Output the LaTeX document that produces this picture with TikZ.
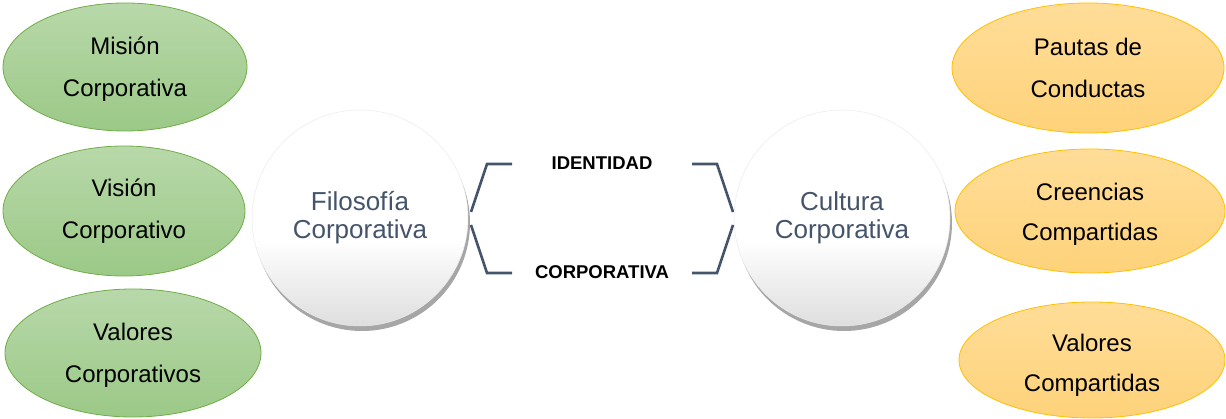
\documentclass[tikz,border=0pt]{standalone}
\usepackage{fontspec}
\setmainfont{Liberation Sans}
\usetikzlibrary{shapes.geometric,shadows}
\definecolor{gtop}{RGB}{184,216,169}
\definecolor{gbot}{RGB}{155,201,135}
\definecolor{gline}{RGB}{112,173,71}
\definecolor{otop}{RGB}{255,221,152}
\definecolor{obot}{RGB}{254,210,122}
\definecolor{oline}{RGB}{255,192,0}
\definecolor{slate}{RGB}{68,84,106}
\pgfdeclareverticalshading{circsh}{100bp}{color(0bp)=(black!13); color(25bp)=(black!13); color(45bp)=(white); color(75bp)=(white); color(100bp)=(white)}
\tikzset{
  greenell/.style={ellipse, draw=gline, line width=0.8pt, top color=gtop, bottom color=gbot, inner sep=0pt},
  orangeell/.style={ellipse, draw=oline, line width=0.8pt, top color=otop, bottom color=obot, inner sep=0pt},
  elltext/.style={align=center, inner sep=0pt, font=\fontsize{24}{42}\selectfont},
  bigcirc/.style={circle, minimum size=216pt, inner sep=0pt, shading=circsh, draw=black!8, line width=0.5pt,
     drop shadow={shadow xshift=2pt, shadow yshift=-5pt, fill=black, opacity=0.35},
     text=slate, align=center, font=\fontsize{26}{28}\selectfont},
  brk/.style={draw=slate, line width=2.6pt},
  midlabel/.style={font=\fontsize{18.5}{20}\selectfont\bfseries, inner sep=0pt}
}
\begin{document}
\begin{tikzpicture}[x=1pt,y=-1pt]
\useasboundingbox (0,0) rectangle (1226,419);
% left ellipses
\node[greenell, minimum width=244pt, minimum height=128pt] (mision) at (125,67) {};
\node[greenell, minimum width=242pt, minimum height=130pt] (vision) at (124,211) {};
\node[greenell, minimum width=256pt, minimum height=128pt] (valc) at (133,353) {};
\node[elltext] (misiont) at ([yshift=-2.5pt]mision.center) {Misión\\Corporativa};
\node[elltext] (visiont) at (vision.center) {Visión\\Corporativo};
\node[elltext] (valct) at ([yshift=-2pt]valc.center) {Valores\\Corporativos};
% right ellipses
\node[orangeell, minimum width=272pt, minimum height=130pt] (pautas) at (1088,68) {};
\node[orangeell, minimum width=270pt, minimum height=124pt] (creen) at (1090,211) {};
\node[orangeell, minimum width=266pt, minimum height=116pt] (valcomp) at (1092,360) {};
\node[elltext] (pautast) at (pautas.center) {Pautas de\\Conductas};
\node[elltext, font=\fontsize{24}{39.5}\selectfont] (creent) at ([yshift=-3.5pt]creen.center) {Creencias\\Compartidas};
\node[elltext, font=\fontsize{24}{40}\selectfont] (valcompt) at ([yshift=-5pt]valcomp.center) {Valores\\Compartidas};
% circles
\node[bigcirc] (filo) at (360,218) {Filosofía\\Corporativa};
\node[bigcirc] (cult) at (842,218) {Cultura\\Corporativa};
% labels
\node[midlabel] (ident) at (602,163) {IDENTIDAD};
\node[midlabel] (corp) at (602,272) {CORPORATIVA};
% brackets
\coordinate (l1) at (512,164); \coordinate (l2) at (487,164); \coordinate (l3) at (471,212);
\coordinate (l4) at (471,225); \coordinate (l5) at (487,273); \coordinate (l6) at (512,273);
\coordinate (r1) at (692,164); \coordinate (r2) at (717,164); \coordinate (r3) at (733,212);
\coordinate (r4) at (733,225); \coordinate (r5) at (717,273); \coordinate (r6) at (692,273);
\draw[brk] (l1) -- (l2) -- (l3);
\draw[brk] (l4) -- (l5) -- (l6);
\draw[brk] (r1) -- (r2) -- (r3);
\draw[brk] (r4) -- (r5) -- (r6);
\end{tikzpicture}
\end{document}
